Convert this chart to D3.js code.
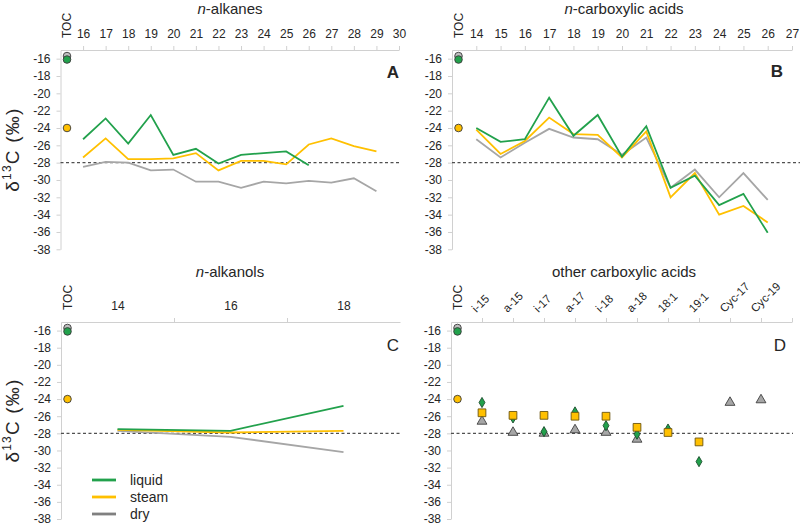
<!DOCTYPE html>
<html>
<head>
<meta charset="utf-8">
<script src="https://cdn.jsdelivr.net/npm/d3@7"></script>
<style>
body { margin: 0; background: #fff; }
svg text { font-family: "Liberation Sans", Arial, sans-serif; fill: #262626; }
.axis path, .axis line { stroke: #d0d0d0; }
</style>
</head>
<body>
<div id="chart"></div>
<script>
// series order everywhere: liquid, steam, dry
var seriesNames = ["liquid", "steam", "dry"];
var seriesColors = ["#22a14c", "#ffc000", "#a6a6a6"];
var legendColors = ["#22a14c", "#ffc000", "#808080"];
var tocValues = [-16.1, -24.0, -15.7];
var refValue = -28;
var yTicks = [-16, -18, -20, -22, -24, -26, -28, -30, -32, -34, -36, -38];

// A: n-alkanes
var alkaneCarbons = [16, 17, 18, 19, 20, 21, 22, 23, 24, 25, 26, 27, 28, 29];
var alkaneLiquid = [-25.3, -22.9, -25.8, -22.5, -27.1, -26.4, -28.1, -27.1, -26.9, -26.7, -28.3, null, null, null];
var alkaneSteam = [-27.4, -25.2, -27.6, -27.6, -27.5, -26.9, -28.9, -27.8, -27.8, -28.2, -25.9, -25.2, -26.1, -26.7];
var alkaneDry = [-28.5, -27.9, -28.0, -28.9, -28.8, -30.2, -30.2, -30.9, -30.2, -30.4, -30.1, -30.3, -29.8, -31.3];
var alkaneTicks = [16, 17, 18, 19, 20, 21, 22, 23, 24, 25, 26, 27, 28, 29, 30];

// B: n-carboxylic acids
var acidCarbons = [14, 15, 16, 17, 18, 19, 20, 21, 22, 23, 24, 25, 26];
var acidLiquid = [-24.0, -25.6, -25.3, -20.5, -24.9, -22.5, -27.3, -23.8, -30.9, -29.5, -32.9, -31.6, -36.1];
var acidSteam = [-24.2, -27.0, -25.5, -22.8, -24.7, -24.8, -27.4, -24.4, -32.0, -29.2, -34.0, -33.0, -34.9];
var acidDry = [-25.3, -27.4, -25.7, -24.1, -25.1, -25.3, -27.1, -25.1, -30.9, -28.8, -32.0, -29.2, -32.3];
var acidTicks = [14, 15, 16, 17, 18, 19, 20, 21, 22, 23, 24, 25, 26, 27];

// C: n-alkanols
var alkanolCarbons = [14, 16, 18];
var alkanolLiquid = [-27.5, -27.7, -24.8];
var alkanolSteam = [-27.6, -27.9, -27.7];
var alkanolDry = [-27.7, -28.4, -30.2];

// D: other carboxylic acids
var otherAcids = ["i-15", "a-15", "i-17", "a-17", "i-18", "a-18", "18:1", "19:1", "Cyc-17", "Cyc-19"];
var otherLiquid = [-24.4, -26.2, -27.8, -25.5, -27.1, -28.1, -27.5, -31.3, null, null];
var otherSteam = [-25.6, -25.9, -25.9, -26.0, -26.0, -27.3, -27.9, -29.0, null, null];
var otherDry = [-26.6, -27.9, -28.0, -27.6, -27.9, -28.7, null, null, -24.4, -24.1];

var width = 800, height = 525;

var svg = d3.select("#chart").append("svg")
    .attr("width", width)
    .attr("height", height);

/*
 * One panel: scales, left + top axes, reference line, TOC dots
 */
function makePanel(opts) {
    var p = {};
    p.x = d3.scaleLinear().domain(opts.xDomain).range([opts.left, opts.right]);
    p.y = d3.scaleLinear().domain([-38, -15]).range([opts.bottom, opts.top]);
    p.g = svg.append("g");

    var yAxis = d3.axisLeft(p.y)
        .tickValues(yTicks)
        .tickSize(4)
        .tickSizeOuter(0)
        .tickPadding(6)
        .tickFormat(function (d) { return String(d); });

    p.g.append("g")
        .attr("class", "axis")
        .attr("transform", "translate(" + opts.left + ",0)")
        .call(yAxis)
        .selectAll("text")
        .attr("font-size", 12)
        .attr("fill", "#262626");

    var xAxis = d3.axisTop(p.x)
        .tickValues(opts.xTicks)
        .tickSize(opts.labelTicks === false ? 0 : 4)
        .tickSizeOuter(0)
        .tickPadding(opts.labelTicks === false ? 12 : 8)
        .tickFormat(opts.tickFormat || d3.format("d"));

    p.xg = p.g.append("g")
        .attr("class", "axis")
        .attr("transform", "translate(0," + p.y(-15) + ")")
        .call(xAxis);
    p.xg.selectAll("text").attr("font-size", 12).attr("fill", "#262626");

    if (opts.markTicks) {
        p.g.append("g")
            .attr("class", "axis")
            .attr("transform", "translate(0," + p.y(-15) + ")")
            .call(d3.axisTop(p.x).tickValues(opts.markTicks).tickSize(4).tickSizeOuter(0).tickFormat(""))
            .select(".domain").remove();
    }

    p.g.selectAll(".domain").attr("stroke", "#d0d0d0");

    // title
    p.g.append("text")
        .attr("x", opts.titleX)
        .attr("y", opts.titleY)
        .attr("text-anchor", "middle")
        .attr("font-size", 15)
        .call(function (t) {
            if (opts.italicN) {
                t.append("tspan").attr("font-style", "italic").text("n");
                t.append("tspan").text(opts.title);
            } else {
                t.text(opts.title);
            }
        });

    // panel letter
    p.g.append("text")
        .attr("x", opts.letterX)
        .attr("y", opts.letterY)
        .attr("text-anchor", "middle")
        .attr("font-size", 17)
        .attr("font-weight", opts.letterBold ? "bold" : "normal")
        .attr("fill", "#000")
        .text(opts.letter);

    // reference line at -28
    p.g.append("line")
        .attr("x1", opts.left)
        .attr("x2", opts.refEnd)
        .attr("y1", p.y(refValue))
        .attr("y2", p.y(refValue))
        .attr("stroke", "#505050")
        .attr("stroke-width", 1.1)
        .attr("stroke-dasharray", "3,2.5");

    // TOC column
    p.tocX = opts.left + 6.5;
    p.g.append("text")
        .attr("transform", "translate(" + (p.tocX + 4) + "," + (p.y(-15) - 12) + ") rotate(-90)")
        .attr("font-size", 12)
        .text("TOC");

    var tocOrder = [2, 0, 1];
    p.g.selectAll(".toc")
        .data(tocOrder)
        .enter().append("circle")
        .attr("class", "toc")
        .attr("cx", p.tocX)
        .attr("cy", function (i) { return p.y(tocValues[i]); })
        .attr("r", 3.8)
        .attr("fill", function (i) { return i === 2 ? "#bfbfbf" : seriesColors[i]; })
        .attr("stroke", "#3a3a3a")
        .attr("stroke-width", 0.9);

    return p;
}

function drawLines(p, xs, seriesList) {
    var line = d3.line()
        .defined(function (d) { return d.v !== null; })
        .x(function (d) { return p.x(d.c); })
        .y(function (d) { return p.y(d.v); });

    // draw dry first, then steam, then liquid on top
    [2, 1, 0].forEach(function (i) {
        var pts = xs.map(function (c, k) { return { c: c, v: seriesList[i][k] }; });
        p.g.append("path")
            .datum(pts)
            .attr("fill", "none")
            .attr("stroke", seriesColors[i])
            .attr("stroke-width", 1.8)
            .attr("d", line);
    });
}

var panelA = makePanel({
    xDomain: [15, 30], left: 60.5, right: 399, top: 50, bottom: 249.3,
    xTicks: alkaneTicks, title: "-alkanes", italicN: true, titleX: 230, titleY: 14,
    letter: "A", letterBold: true, letterX: 393, letterY: 78, refEnd: 399
});
drawLines(panelA, alkaneCarbons, [alkaneLiquid, alkaneSteam, alkaneDry]);

var panelB = makePanel({
    xDomain: [13, 27], left: 452, right: 792, top: 50, bottom: 249.3,
    xTicks: acidTicks, title: "-carboxylic acids", italicN: true, titleX: 624, titleY: 14,
    letter: "B", letterBold: true, letterX: 777, letterY: 77, refEnd: 800
});
drawLines(panelB, acidCarbons, [acidLiquid, acidSteam, acidDry]);

var panelC = makePanel({
    xDomain: [13, 19], left: 61, right: 400, top: 322, bottom: 519,
    xTicks: [14, 16, 18], labelTicks: false, markTicks: [15, 17],
    title: "-alkanols", italicN: true, titleX: 230, titleY: 277,
    letter: "C", letterBold: false, letterX: 393, letterY: 351, refEnd: 400
});
drawLines(panelC, alkanolCarbons, [alkanolLiquid, alkanolSteam, alkanolDry]);

var panelD = makePanel({
    xDomain: [0, 11], left: 451, right: 792, top: 322, bottom: 519,
    xTicks: d3.range(1, 12), title: "other carboxylic acids", italicN: false, titleX: 624, titleY: 277,
    tickFormat: function (d) { return otherAcids[d - 1] || ""; },
    letter: "D", letterBold: false, letterX: 780, letterY: 351, refEnd: 793
});

// rotated category labels for D
panelD.xg.selectAll(".tick text")
    .attr("text-anchor", "start")
    .attr("font-size", 11.5)
    .attr("transform", "translate(-6,-9) rotate(-45)")
    .attr("x", 0)
    .attr("y", 0)
    .attr("dy", 0);

// D markers: dry triangles, liquid diamonds, steam squares on top
var markerDefs = [
    { data: otherDry, type: d3.symbolTriangle, size: 42, fill: "#a6a6a6", stroke: "#404040" },
    { data: otherLiquid, type: d3.symbolDiamond, size: 30, fill: "#22a14c", stroke: "#1b4d2c" },
    { data: otherSteam, type: d3.symbolSquare, size: 60, fill: "#ffc000", stroke: "#6b5510" }
];
markerDefs.forEach(function (m) {
    var pts = otherAcids.map(function (name, k) { return { k: k + 1, v: m.data[k] }; })
        .filter(function (d) { return d.v !== null; });
    panelD.g.selectAll(null)
        .data(pts)
        .enter().append("path")
        .attr("transform", function (d) { return "translate(" + panelD.x(d.k) + "," + panelD.y(d.v) + ")"; })
        .attr("d", d3.symbol().type(m.type).size(m.size))
        .attr("fill", m.fill)
        .attr("stroke", m.stroke)
        .attr("stroke-width", 0.9);
});

// y axis titles (left column)
[panelA, panelC].forEach(function (p) {
    var cy = (p.y(-15) + p.y(-38)) / 2;
    var t = svg.append("text")
        .attr("transform", "translate(19," + cy + ") rotate(-90)")
        .attr("text-anchor", "middle")
        .attr("letter-spacing", 1.2)
        .attr("font-size", 19);
    t.append("tspan").text("δ");
    t.append("tspan").attr("font-size", 12).attr("dy", -8).text("13");
    t.append("tspan").attr("dy", 8).text("C (‰)");
});

// legend in panel C
var legend = svg.append("g");
seriesNames.forEach(function (name, i) {
    var ly = 480 + i * 17;
    legend.append("line")
        .attr("x1", 92).attr("x2", 116)
        .attr("y1", ly).attr("y2", ly)
        .attr("stroke", legendColors[i])
        .attr("stroke-width", 2.8);
    legend.append("text")
        .attr("x", 130)
        .attr("y", ly)
        .attr("dy", "0.35em")
        .attr("font-size", 14)
        .text(name);
});
</script>
</body>
</html>
